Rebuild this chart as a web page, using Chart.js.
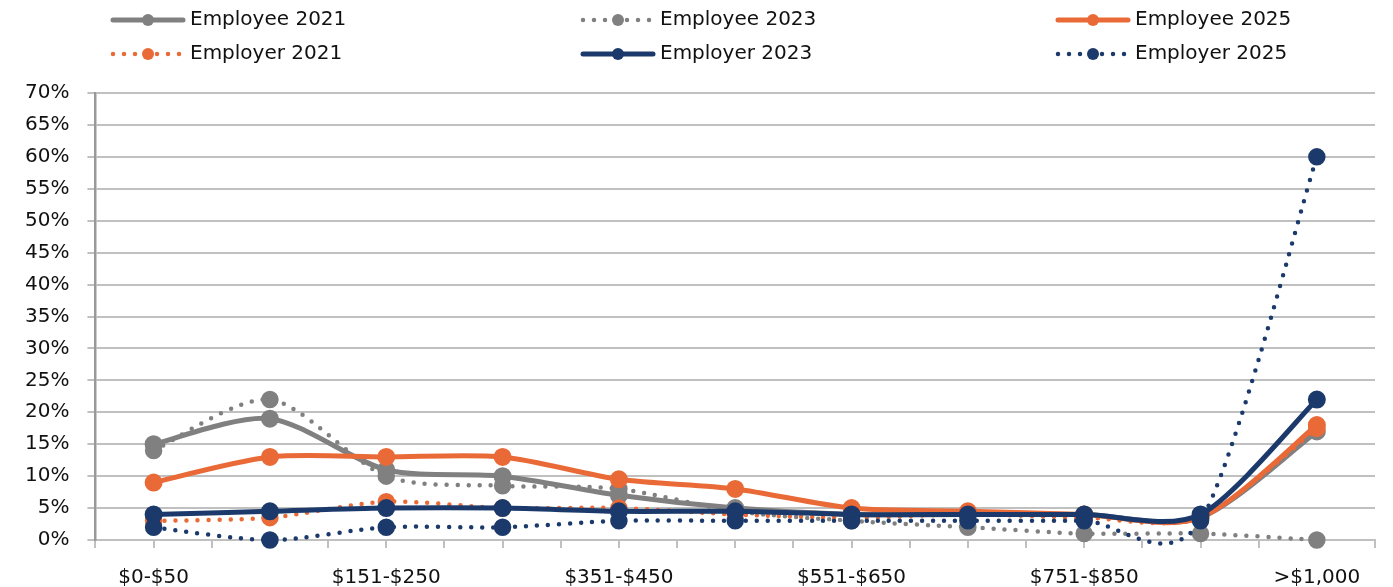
<!DOCTYPE html>
<html>
<head>
<meta charset="utf-8">
<script src="https://cdn.jsdelivr.net/npm/chart.js@4/dist/chart.umd.min.js"></script>
<style>
  html, body { margin: 0; padding: 0; background: #fff; }
  #wrap { width: 1393px; height: 587px; position: relative; }
</style>
</head>
<body>
<div id="wrap"><canvas id="lineChart"></canvas></div>
<script>
var categories = ['$0-$50', '$51-$150', '$151-$250', '$251-$350', '$351-$450', '$451-$550',
                  '$551-$650', '$651-$750', '$751-$850', '$851-$950', '>$1,000'];

var employee2021 = [15, 19, 11, 10, 7, 5, 4, 4, 4, 3.5, 17];
var employee2023 = [14, 22, 10, 8.5, 8, 4.5, 3, 2, 1, 1, 0];
var employee2025 = [9, 13, 13, 13, 9.5, 8, 5, 4.5, 4, 3.5, 18];
var employer2021 = [3, 3.5, 6, 5, 5, 4, 3.5, 4, 3.5, 3.5, 17.5];
var employer2023 = [4, 4.5, 5, 5, 4.5, 4.5, 4, 4, 4, 4, 22];
var employer2025 = [2, 0, 2, 2, 3, 3, 3, 3, 3, 3, 60];

var yMin = 0, yMax = 70, yStep = 5;

var GRAY = '#808080', ORANGE = '#E96A37', NAVY = '#1B3A6B';
var FONT = '"DejaVu Sans", sans-serif';

function pts(values) {
    return values.map(function (v, i) { return {x: i, y: v}; });
}

function series(label, values, color, dotted, order) {
    return {
        label: label,
        data: pts(values),
        borderColor: color,
        backgroundColor: color,
        pointBackgroundColor: color,
        pointBorderColor: color,
        borderWidth: dotted ? 4.5 : 5,
        borderDash: dotted ? [0, 11] : [],
        borderCapStyle: 'round',
        pointRadius: 6.5,
        pointHoverRadius: 6.5,
        tension: 0.4,
        clip: false,
        order: order
    };
}

// spreadsheet-style smoothing: control points from the neighbours (catmull-rom like)
var SMOOTH = 0.14;
var excelSmooth = {
    id: 'excelSmooth',
    beforeDatasetsDraw: function (chart) {
        chart.getSortedVisibleDatasetMetas().forEach(function (meta) {
            var p = meta.data, n = p.length;
            for (var i = 0; i < n; i++) {
                var prev = p[Math.max(i - 1, 0)], next = p[Math.min(i + 1, n - 1)];
                var dx = (next.x - prev.x) * SMOOTH, dy = (next.y - prev.y) * SMOOTH;
                p[i].cp1x = p[i].x - dx; p[i].cp1y = p[i].y - dy;
                p[i].cp2x = p[i].x + dx; p[i].cp2y = p[i].y + dy;
            }
            meta.dataset._pointsUpdated = true;
            meta.dataset._path = undefined;
        });
    }
};

// legend drawn in two rows of three, like the spreadsheet legend
var rowLegend = {
    id: 'rowLegend',
    afterDraw: function (chart) {
        var ctx = chart.ctx;
        var cols = [113, 583, 1058];
        var rows = [20, 54];
        chart.data.datasets.forEach(function (ds, i) {
            var x = cols[i % 3], y = rows[Math.floor(i / 3)];
            ctx.save();
            ctx.strokeStyle = ds.borderColor;
            ctx.lineWidth = ds.borderWidth;
            ctx.lineCap = 'round';
            ctx.setLineDash(ds.borderDash);
            ctx.beginPath();
            ctx.moveTo(x, y);
            ctx.lineTo(x + 70, y);
            ctx.stroke();
            ctx.setLineDash([]);
            ctx.fillStyle = ds.borderColor;
            ctx.beginPath();
            ctx.arc(x + 35, y, 6, 0, Math.PI * 2);
            ctx.fill();
            ctx.fillStyle = '#111';
            ctx.font = '20px ' + FONT;
            ctx.textBaseline = 'middle';
            ctx.textAlign = 'left';
            ctx.fillText(ds.label, x + 77, y);
            ctx.restore();
        });
    }
};

var lineData = {
    datasets: [
        series('Employee 2021', employee2021, GRAY, false, 6),
        series('Employee 2023', employee2023, GRAY, true, 5),
        series('Employee 2025', employee2025, ORANGE, false, 4),
        series('Employer 2021', employer2021, ORANGE, true, 3),
        series('Employer 2023', employer2023, NAVY, false, 2),
        series('Employer 2025', employer2025, NAVY, true, 1)
    ]
};

var lineOptions = {
    responsive: true,
    maintainAspectRatio: false,
    animation: false,
    layout: {padding: {top: 93, left: 7, right: 16, bottom: -21}},
    plugins: {
        legend: {display: false},
        tooltip: {enabled: false}
    },
    scales: {
        x: {
            type: 'linear',
            min: -0.5,
            max: categories.length - 0.5,
            afterBuildTicks: function (axis) {
                var t = [];
                for (var v = -0.5; v <= categories.length - 0.5; v += 0.5) t.push({value: v});
                axis.ticks = t;
            },
            ticks: {
                autoSkip: false,
                maxRotation: 0,
                padding: 18,
                color: '#111',
                font: {family: FONT, size: 20},
                callback: function (v) {
                    return (Number.isInteger(v) && v % 2 === 0) ? categories[v] : '';
                }
            },
            grid: {drawOnChartArea: false, tickLength: 8, color: '#c0c0c0', lineWidth: 2},
            border: {color: '#c0c0c0', width: 2}
        },
        y: {
            min: yMin,
            max: yMax,
            ticks: {
                stepSize: yStep,
                maxTicksLimit: 20,
                padding: 18,
                color: '#111',
                font: {family: FONT, size: 20},
                callback: function (v) { return v + '%'; }
            },
            grid: {color: '#c0c0c0', lineWidth: 2, tickLength: 8, tickColor: '#c0c0c0'},
            border: {color: '#999', width: 2.5}
        }
    }
};

var ctx = document.getElementById('lineChart').getContext('2d');
new Chart(ctx, {type: 'line', data: lineData, options: lineOptions, plugins: [excelSmooth, rowLegend]});
</script>
</body>
</html>
